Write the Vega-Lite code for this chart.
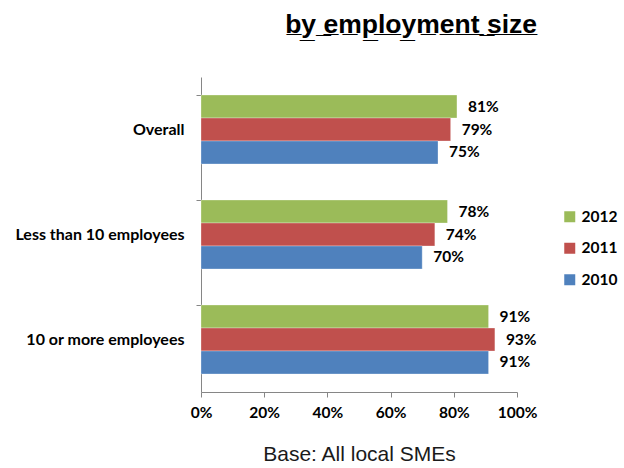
{
  "$schema": "https://vega.github.io/schema/vega-lite/v6.json",
  "autosize": {"type": "none"},
  "padding": {"left": 201, "top": 77, "right": 107, "bottom": 76},
  "width": 316,
  "height": 315,
  "background": "white",
  "config": {"view": {"stroke": null}},
  "title": {
    "text": "b̲y̲ ̲e̲m̲p̲l̲o̲y̲m̲e̲n̲t̲ ̲s̲i̲z̲e̲",
    "font": "Liberation Sans",
    "fontSize": 26.5,
    "fontWeight": "bold",
    "color": "#000000",
    "anchor": "end",
    "frame": "group",
    "dx": 20,
    "offset": 39
  },
  "data": {
    "values": [
      {"group": "Overall", "year": "2012", "value": 0.81},
      {"group": "Overall", "year": "2011", "value": 0.79},
      {"group": "Overall", "year": "2010", "value": 0.75},
      {"group": "Less than 10 employees", "year": "2012", "value": 0.78},
      {"group": "Less than 10 employees", "year": "2011", "value": 0.74},
      {"group": "Less than 10 employees", "year": "2010", "value": 0.70},
      {"group": "10 or more employees", "year": "2012", "value": 0.91},
      {"group": "10 or more employees", "year": "2011", "value": 0.93},
      {"group": "10 or more employees", "year": "2010", "value": 0.91}
    ]
  },
  "encoding": {
    "y": {
      "field": "group",
      "type": "nominal",
      "sort": ["Overall", "Less than 10 employees", "10 or more employees"],
      "scale": {"paddingInner": 0.343, "paddingOuter": 0.1715},
      "axis": {
        "title": null,
        "bandPosition": 0,
        "domainColor": "#868686",
        "tickColor": "#868686",
        "tickSize": 5,
        "labelFont": "Lato",
        "labelFontWeight": "bold",
        "labelFontSize": 16,
        "labelColor": "#000000",
        "labelPadding": 12
      }
    },
    "yOffset": {
      "field": "year",
      "type": "nominal",
      "sort": ["2012", "2011", "2010"],
      "scale": {"paddingInner": 0, "paddingOuter": 0}
    },
    "x": {
      "field": "value",
      "type": "quantitative",
      "scale": {"domain": [0, 1]},
      "axis": {
        "format": ".0%",
        "values": [0, 0.2, 0.4, 0.6, 0.8, 1],
        "grid": false,
        "labelFlush": false,
        "domainColor": "#868686",
        "tickColor": "#868686",
        "tickSize": 5,
        "labelFont": "Lato",
        "labelFontWeight": "bold",
        "labelFontSize": 15.5,
        "labelColor": "#000000",
        "labelPadding": 8,
        "title": "Base: All local SMEs",
        "titleFont": "Liberation Sans",
        "titleFontWeight": "normal",
        "titleFontSize": 21,
        "titleColor": "#1a1a1a",
        "titlePadding": 23
      }
    }
  },
  "layer": [
    {
      "mark": {"type": "bar", "stroke": "#ffffff", "strokeWidth": 0.5, "strokeOpacity": 0.6},
      "encoding": {
        "color": {
          "field": "year",
          "type": "nominal",
          "scale": {"domain": ["2012", "2011", "2010"], "range": ["#9BBB59", "#C0504D", "#4F81BD"]},
          "legend": {
            "title": null,
            "orient": "none",
            "legendX": 361,
            "legendY": 132,
            "symbolType": "square",
            "symbolSize": 121,
            "symbolStrokeWidth": 0,
            "rowPadding": 14.5,
            "labelFont": "Lato",
            "labelFontWeight": "bold",
            "labelFontSize": 15.5,
            "labelColor": "#000000",
            "labelOffset": 4
          }
        }
      }
    },
    {
      "mark": {"type": "text", "align": "left", "baseline": "middle", "dx": 11, "font": "Lato", "fontWeight": "bold", "fontSize": 15.5, "color": "#000000"},
      "encoding": {
        "text": {"field": "value", "type": "quantitative", "format": ".0%"}
      }
    }
  ]
}
